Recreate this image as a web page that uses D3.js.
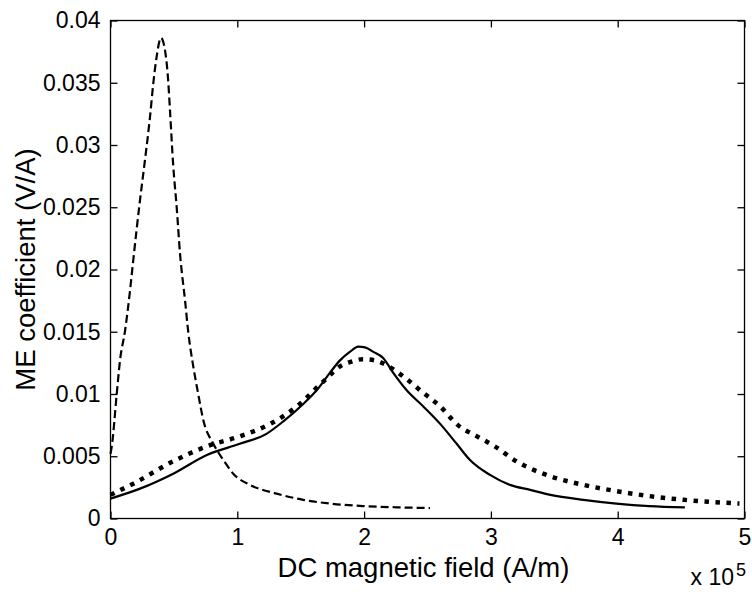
<!DOCTYPE html>
<html>
<head>
<meta charset="utf-8">
<script src="https://cdn.jsdelivr.net/npm/d3@7"></script>
<style>
html,body{margin:0;padding:0;background:#fff;}
svg{display:block;}
text{font-family:Arial,"Liberation Sans",sans-serif;fill:#000;}
</style>
</head>
<body>
<svg id="chart" width="752" height="592"></svg>
<script>
// x values in units of 1e5 A/m
const xTicks = [0, 1, 2, 3, 4, 5];
const yTicks = [0, 0.005, 0.01, 0.015, 0.02, 0.025, 0.03, 0.035, 0.04];

const dashX = [0, 0.01, 0.05, 0.075, 0.115, 0.155, 0.18, 0.233, 0.272, 0.312, 0.338, 0.364, 0.398, 0.43, 0.456, 0.469, 0.495, 0.522, 0.548, 0.588, 0.614, 0.653, 0.69, 0.732, 0.811, 0.89, 0.968, 1.1, 1.31, 1.52, 1.73, 1.99, 2.25, 2.52];
const dashY = [0.0052, 0.0058, 0.0101, 0.0127, 0.0151, 0.0184, 0.0208, 0.0256, 0.0288, 0.0323, 0.035, 0.0371, 0.0386, 0.0376, 0.035, 0.0328, 0.0283, 0.025, 0.0213, 0.0175, 0.0149, 0.0122, 0.0101, 0.0079, 0.006, 0.0047, 0.0036, 0.0027, 0.002, 0.0015, 0.0012, 0.001, 0.0009, 0.00084];

const solidX = [0, 0.233, 0.495, 0.76, 1.02, 1.23, 1.363, 1.52, 1.626, 1.73, 1.81, 1.89, 1.954, 2.007, 2.07, 2.15, 2.23, 2.336, 2.467, 2.6, 2.73, 2.835, 2.993, 3.15, 3.31, 3.47, 3.73, 3.99, 4.25, 4.53];
const solidY = [0.0016, 0.0024, 0.0036, 0.0051, 0.006, 0.0068, 0.0078, 0.0092, 0.0103, 0.0117, 0.0127, 0.0134, 0.0138, 0.01375, 0.0134, 0.0129, 0.0117, 0.0103, 0.009, 0.0076, 0.006, 0.0047, 0.0035, 0.0027, 0.0023, 0.0019, 0.0015, 0.0012, 0.001, 0.0009];

const dotX = [0, 0.18, 0.495, 0.76, 1.02, 1.26, 1.47, 1.678, 1.823, 1.9, 1.99, 2.086, 2.18, 2.31, 2.454, 2.6, 2.74, 2.89, 3.03, 3.2, 3.466, 3.73, 3.99, 4.25, 4.52, 4.96];
const dotY = [0.0019, 0.0028, 0.0046, 0.0058, 0.0066, 0.0076, 0.009, 0.011, 0.0123, 0.0126, 0.0128, 0.0127, 0.0123, 0.0114, 0.0102, 0.009, 0.0075, 0.0066, 0.0058, 0.0046, 0.0034, 0.0027, 0.0022, 0.0018, 0.0015, 0.0012];

const svg = d3.select("#chart");
const L = 110.5, R = 744.5, T = 20.5, B = 518.5;
const x = d3.scaleLinear().domain([0, 5]).range([L, R]);
const y = d3.scaleLinear().domain([0, 0.04]).range([B, T]);

const yFmt = d => d === 0 ? "0" : String(+d.toFixed(3));

// frame
svg.append("rect").attr("x", L).attr("y", T).attr("width", R - L).attr("height", B - T)
  .attr("fill", "none").attr("stroke", "#000").attr("stroke-width", 1.3);

function styleAxis(g) {
  g.select(".domain").remove();
  g.selectAll(".tick line").attr("stroke", "#000").attr("stroke-width", 1.3);
  g.selectAll("text").style("font-size", "23px").attr("fill", "#000");
}

svg.append("g").attr("transform", `translate(0,${B})`)
  .call(d3.axisBottom(x).tickValues(xTicks).tickFormat(d3.format("d")).tickSize(-7).tickPadding(10))
  .call(styleAxis);
svg.append("g").attr("transform", `translate(0,${T})`)
  .call(d3.axisTop(x).tickValues(xTicks).tickFormat("").tickSize(-7))
  .call(styleAxis);
svg.append("g").attr("transform", `translate(${L},0)`)
  .call(d3.axisLeft(y).tickValues(yTicks).tickFormat(yFmt).tickSize(-7).tickPadding(10))
  .call(styleAxis);
svg.append("g").attr("transform", `translate(${R},0)`)
  .call(d3.axisRight(y).tickValues(yTicks).tickFormat("").tickSize(-7))
  .call(styleAxis);

const line = d3.line().x(d => x(d[0])).y(d => y(d[1])).curve(d3.curveMonotoneX);
const zip = (a, b) => a.map((v, i) => [v, b[i]]);

svg.append("path").datum(zip(dashX, dashY)).attr("d", line)
  .attr("fill", "none").attr("stroke", "#000").attr("stroke-width", 2.2)
  .attr("stroke-dasharray", "8,4");
svg.append("path").datum(zip(solidX, solidY)).attr("d", line)
  .attr("fill", "none").attr("stroke", "#000").attr("stroke-width", 2.2);
svg.append("path").datum(zip(dotX, dotY)).attr("d", line)
  .attr("fill", "none").attr("stroke", "#000").attr("stroke-width", 4.5)
  .attr("stroke-dasharray", "4.5,6.5");

// axis labels
svg.append("text").attr("x", (L + R) / 2 - 4).attr("y", 577).attr("text-anchor", "middle")
  .style("font-size", "27.5px").text("DC magnetic field (A/m)");
svg.append("text").attr("transform", `translate(35,${(T + B) / 2}) rotate(-90)`)
  .attr("text-anchor", "middle").style("font-size", "27.5px").text("ME coefficient (V/A)");

// exponent
svg.append("text").attr("x", 734).attr("y", 585).attr("text-anchor", "end")
  .style("font-size", "23px").text("x 10");
svg.append("text").attr("x", 736).attr("y", 576).style("font-size", "18px").text("5");
</script>
</body>
</html>
